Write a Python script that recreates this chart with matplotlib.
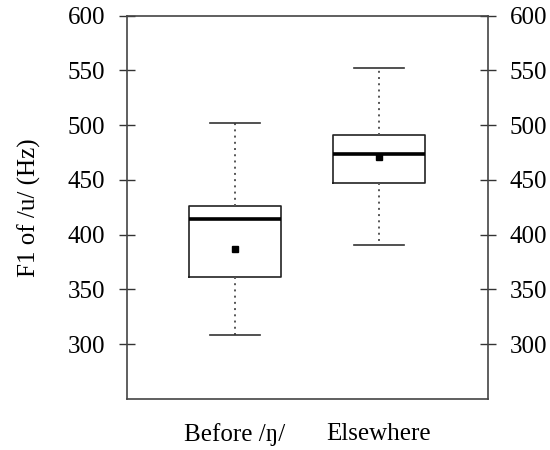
import matplotlib
matplotlib.use("Agg")
import matplotlib.pyplot as plt

plt.rcParams["font.family"] = ["Liberation Serif", "DejaVu Serif"]

# F1 summary per context
grupper = ["Before /ŋ/", "Elsewhere"]
nedre = [308, 391]
q1 = [361, 447]
median = [414, 474]
q3 = [426, 491]
ovre = [502, 552]
snitt = [387, 471]

stats = []
for i in range(len(grupper)):
    stats.append({"label": grupper[i], "whislo": nedre[i], "q1": q1[i], "med": median[i],
                  "q3": q3[i], "whishi": ovre[i], "mean": snitt[i], "fliers": []})

fig = plt.figure(figsize=(5.5, 4.5), dpi=100)
ax = fig.add_axes([0.2309, 0.1133, 0.6558, 0.8518])

ax.bxp(stats, positions=[1, 2], widths=0.64, showmeans=True, showfliers=False,
       boxprops=dict(color="#222222", linewidth=1.2),
       medianprops=dict(color="black", linewidth=2.6),
       whiskerprops=dict(color="#555555", linewidth=1.4, linestyle=(0, (1.0, 2.2))),
       capprops=dict(color="#333333", linewidth=1.2),
       capwidths=0.345,
       meanprops=dict(marker="s", markersize=4, markerfacecolor="black", markeredgecolor="black"))

ax.set_xlim(0.25, 2.756)
ax.set_ylim(250, 600)
ax.set_yticks([300, 350, 400, 450, 500, 550, 600])
ax.tick_params(axis="y", direction="inout", length=11.5, width=1.0, labelsize=18, pad=10,
               left=True, right=True, labelleft=True, labelright=True, color="#333333")
ax.tick_params(axis="x", length=0, labelsize=18, pad=17)
for s in ax.spines.values():
    s.set_color("#444444")
    s.set_linewidth(1.2)

ax.set_ylabel("F1 of /u/ (Hz)", fontsize=18, labelpad=19)

fig.savefig("out.png", dpi=100)
